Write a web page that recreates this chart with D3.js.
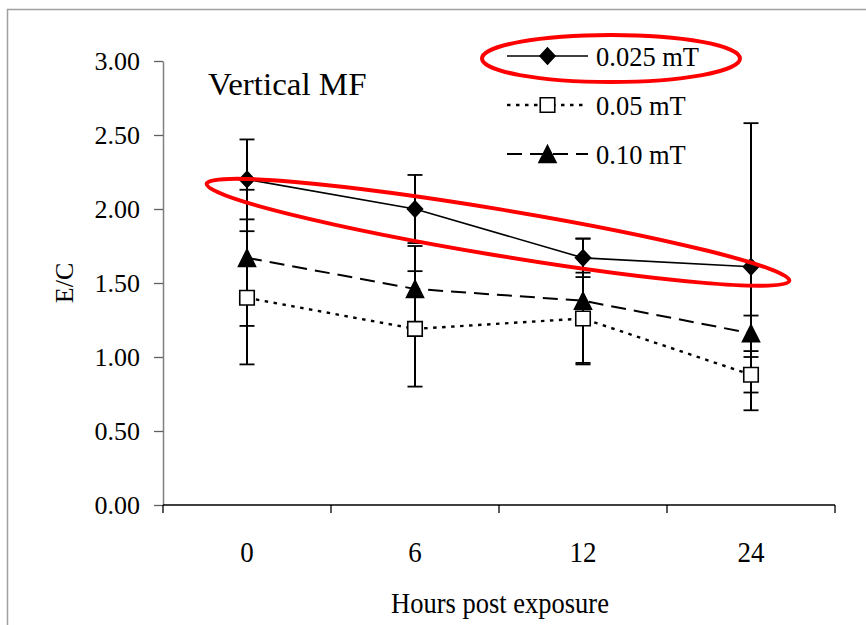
<!DOCTYPE html>
<html>
<head>
<meta charset="utf-8">
<script src="https://cdn.jsdelivr.net/npm/d3@7"></script>
<style>
  html, body { margin: 0; padding: 0; background: #ffffff; }
  svg { display: block; }
  text { font-family: "Liberation Serif", "Times New Roman", serif; fill: #000; }
</style>
</head>
<body>
<script>
// ---------------- data ----------------
const categories = ["0", "6", "12", "24"];
const seriesNames = ["0.025 mT", "0.05 mT", "0.10 mT"];
const values025 = [2.20, 2.00, 1.67, 1.61];
const errors025 = [0.27, 0.23, 0.13, 0.97];
const values005 = [1.40, 1.19, 1.26, 0.88];
const errors005 = [0.45, 0.39, 0.31, 0.12];
const values010 = [1.67, 1.46, 1.38, 1.16];
const errors010 = [0.46, 0.29, 0.42, 0.12];
const yTickValues = [0, 0.5, 1.0, 1.5, 2.0, 2.5, 3.0];
const chartTitle = "Vertical MF";
const xTitle = "Hours post exposure";
const yTitle = "E/C";

// ---------------- layout ----------------
const W = 866, H = 625;
const plot = { left: 163, right: 835, top: 61, bottom: 505 };

const svg = d3.select("body").append("svg").attr("width", W).attr("height", H);

// chart frame (right/bottom edges fall outside the window)
svg.append("rect").attr("x", 7.5).attr("y", 9.5).attr("width", 900).attr("height", 700)
  .attr("fill", "#ffffff").attr("stroke", "#a0a0a0").attr("stroke-width", 1.5);

const x = d3.scaleBand().domain(categories).range([plot.left, plot.right]).padding(0);
const y = d3.scaleLinear().domain([0, 3]).range([plot.bottom, plot.top]);
const cx = c => x(c) + x.bandwidth() / 2;
const xIdx = d3.scaleLinear().domain([0, categories.length - 1])
  .range([cx(categories[0]), cx(categories[categories.length - 1])]);

// ---------------- y axis ----------------
const yAxis = svg.append("g").attr("transform", `translate(${plot.left},0)`)
  .call(d3.axisLeft(y).tickValues(yTickValues).tickFormat(d3.format(".2f"))
    .tickSize(9).tickSizeOuter(0).tickPadding(14));
yAxis.attr("font-family", null);
yAxis.select(".domain").attr("stroke", "#808080").attr("stroke-width", 1.5);
yAxis.selectAll(".tick line").attr("stroke", "#606060").attr("stroke-width", 1.3);
yAxis.selectAll(".tick text").attr("font-size", 26).attr("fill", "#000");

// ---------------- x axis ----------------
const xg = svg.append("g");
xg.append("line").attr("x1", plot.left).attr("x2", plot.right)
  .attr("y1", y(0)).attr("y2", y(0)).attr("stroke", "#000").attr("stroke-width", 1.5);
const boundaries = categories.map(c => x(c)).concat([x(categories[categories.length - 1]) + x.bandwidth()]);
xg.selectAll("line.xt").data(boundaries).join("line").attr("class", "xt")
  .attr("x1", d => d).attr("x2", d => d).attr("y1", y(0)).attr("y2", y(0) + 8)
  .attr("stroke", "#000").attr("stroke-width", 1.3);
xg.selectAll("text.xl").data(categories).join("text").attr("class", "xl")
  .attr("transform", d => `translate(${cx(d)},${y(0) + 57}) scale(1,1.12)`)
  .attr("text-anchor", "middle").attr("font-size", 27).text(d => d);

// axis titles
svg.append("text").attr("transform", `translate(${(plot.left + plot.right) / 2 + 1},613) scale(1,1.12)`)
  .attr("text-anchor", "middle").attr("font-size", 26.5).text(xTitle);
svg.append("text").attr("transform", `translate(73,283) rotate(-90)`)
  .attr("text-anchor", "middle").attr("font-size", 26).text(yTitle);

// chart title
svg.append("text").attr("transform", "translate(208,95) scale(1,0.93)")
  .attr("font-size", 33).text(chartTitle);

// ---------------- series ----------------
const diamond = "M0,-8L7.5,0L0,8L-7.5,0Z";
const triangle = "M0,-8.5L8.5,8.5L-8.5,8.5Z";
const square = "M-7.25,-7.25H7.25V7.25H-7.25Z";
const seriesDefs = [
  { name: seriesNames[0], vals: values025, errs: errors025, dash: null, width: 1.6, marker: diamond, fill: "#000" },
  { name: seriesNames[1], vals: values005, errs: errors005, dash: "3.5,5.5", width: 2.4, marker: square, fill: "#fff" },
  { name: seriesNames[2], vals: values010, errs: errors010, dash: "15,8", width: 2, marker: triangle, fill: "#000" }
];

const gErr = svg.append("g");
const gLines = svg.append("g");
const gMarks = svg.append("g");
const capW = 7.5;

seriesDefs.forEach(s => {
  const pts = categories.map((c, i) => ({ c, v: s.vals[i], e: s.errs[i] }));
  // error bars
  const eb = gErr.selectAll(null).data(pts).join("g");
  eb.append("line").attr("x1", d => cx(d.c)).attr("x2", d => cx(d.c))
    .attr("y1", d => y(d.v + d.e)).attr("y2", d => y(d.v - d.e))
    .attr("stroke", "#000").attr("stroke-width", 2);
  eb.append("line").attr("x1", d => cx(d.c) - capW).attr("x2", d => cx(d.c) + capW)
    .attr("y1", d => y(d.v + d.e)).attr("y2", d => y(d.v + d.e))
    .attr("stroke", "#000").attr("stroke-width", 1.8);
  eb.append("line").attr("x1", d => cx(d.c) - capW).attr("x2", d => cx(d.c) + capW)
    .attr("y1", d => y(d.v - d.e)).attr("y2", d => y(d.v - d.e))
    .attr("stroke", "#000").attr("stroke-width", 1.8);
  // line
  gLines.append("path").datum(pts)
    .attr("d", d3.line().x(d => cx(d.c)).y(d => y(d.v)))
    .attr("fill", "none").attr("stroke", "#000").attr("stroke-width", s.width)
    .attr("stroke-dasharray", s.dash);
  // markers
  gMarks.selectAll(null).data(pts).join("path")
    .attr("transform", d => `translate(${cx(d.c)},${y(d.v)})`)
    .attr("d", s.marker).attr("fill", s.fill).attr("stroke", "#000").attr("stroke-width", 1.6);
});

// ---------------- legend ----------------
const legend = svg.append("g").attr("transform", "translate(507,56)");
seriesDefs.forEach((s, i) => {
  const row = legend.append("g").attr("transform", `translate(0,${i * 49})`);
  row.append("line").attr("x1", 0).attr("x2", 81).attr("y1", 0).attr("y2", 0)
    .attr("stroke", "#000").attr("stroke-width", s.width).attr("stroke-dasharray", s.dash);
  row.append("path").attr("transform", "translate(40.5,0)").attr("d", s.marker)
    .attr("fill", s.fill).attr("stroke", "#000").attr("stroke-width", 1.6);
  row.append("text").attr("x", 89).attr("y", 9.5).attr("font-size", 26.5).text(s.name);
});

// ---------------- red highlight annotations ----------------
legend.append("ellipse").attr("cx", 104).attr("cy", 2.5).attr("rx", 129).attr("ry", 23.5)
  .attr("fill", "none").attr("stroke", "#ff0000").attr("stroke-width", 4);

const tipA = [xIdx(-0.24), y(2.17)];
const tipB = [xIdx(3.228), y(1.515)];
const ecx = (tipA[0] + tipB[0]) / 2, ecy = (tipA[1] + tipB[1]) / 2;
const ang = Math.atan2(tipB[1] - tipA[1], tipB[0] - tipA[0]) * 180 / Math.PI;
const erx = Math.hypot(tipB[0] - tipA[0], tipB[1] - tipA[1]) / 2;
svg.append("ellipse")
  .attr("transform", `translate(${ecx},${ecy}) rotate(${ang})`)
  .attr("rx", erx).attr("ry", 23)
  .attr("fill", "none").attr("stroke", "#ff0000").attr("stroke-width", 4);
</script>
</body>
</html>
